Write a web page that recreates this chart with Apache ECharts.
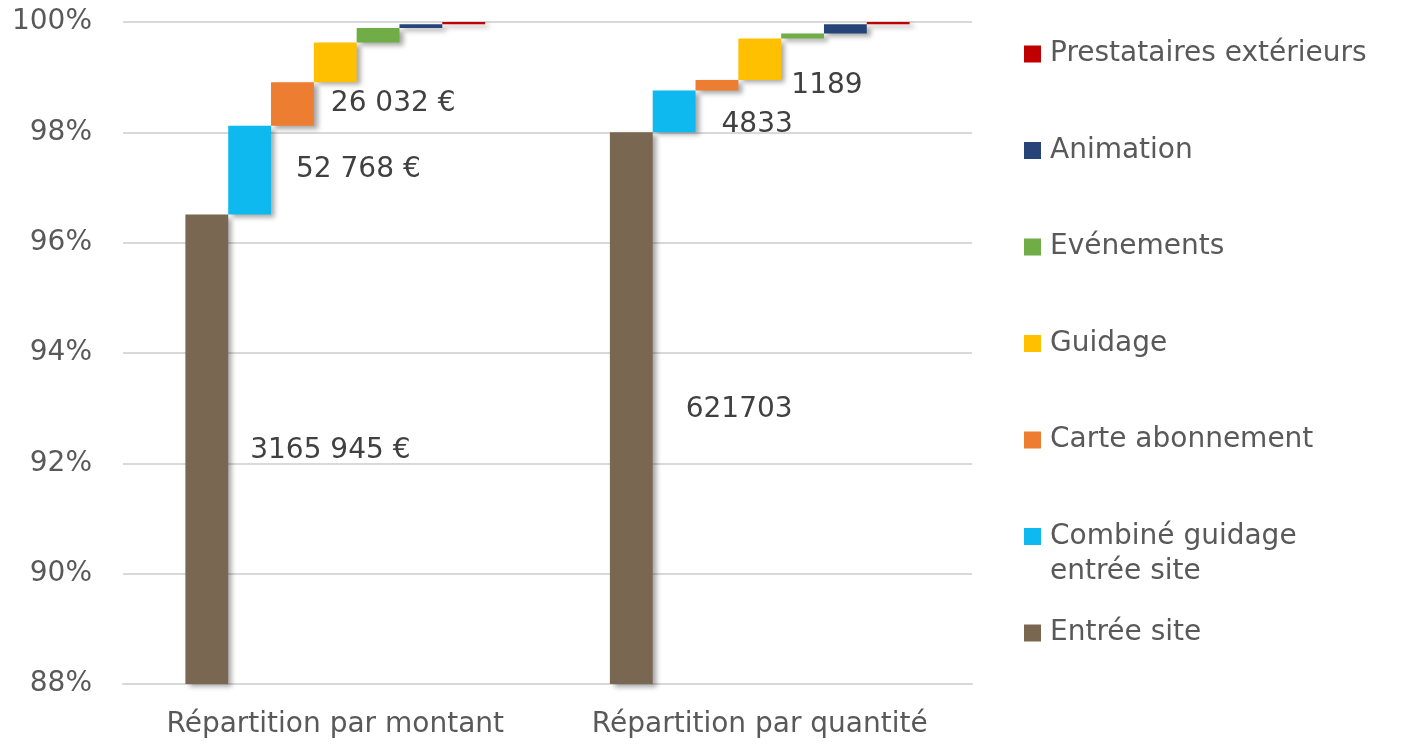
<!DOCTYPE html>
<html>
<head>
<meta charset="utf-8">
<script src="https://cdn.jsdelivr.net/npm/echarts@6/dist/echarts.min.js"></script>
<style>
  html, body { margin: 0; padding: 0; background: #fff; }
  #chart { width: 1404px; height: 744px; }
</style>
</head>
<body>
<div id="chart"></div>
<script>
// categories (x axis)
const categories = ['Répartition par montant', 'Répartition par quantité']
// series, bottom to top of the staircase
const seriesNames = ['Entrée site', 'Combiné guidage entrée site', 'Carte abonnement', 'Guidage', 'Evénements', 'Animation', 'Prestataires extérieurs']
const seriesColors = ['#7a6751', '#0db9ee', '#ed7d31', '#ffc000', '#70ad47', '#264478', '#c00000']
// share of each series in %, per category
const sharesMontant = [96.51, 1.61, 0.79, 0.72, 0.26, 0.07, 0.04]
const sharesQuantite = [98.00, 0.76, 0.19, 0.75, 0.09, 0.17, 0.04]
// data labels
const labelsMontant = ['3165 945 €', '52 768 €', '26 032 €', '', '', '', '']
const labelsQuantite = ['621703', '4833', '1189', '', '', '', '']
// y ticks
const yMin = 88
const yMax = 100
const yStep = 2

// label nudges [x, y] (style only)
const nudgeMontant = [[17, 1], [20, 0], [12, 0]]
const nudgeQuantite = [[28, 2], [21, 13], [48, 1]]

const font = '"DejaVu Sans", sans-serif'
const chart = echarts.init(document.getElementById('chart'))

function cumBefore(arr, i) {
  let s = 0
  for (let k = 0; k < i; k++) s += arr[k]
  return +s.toFixed(4)
}

function labelItem(value, text, nudge) {
  if (!text) return { value: value }
  return {
    value: value,
    label: { show: true, formatter: text, offset: nudge }
  }
}

const series = []
seriesNames.forEach((name, i) => {
  // invisible base so each bar floats on top of the previous ones
  series.push({
    name: '_base' + i,
    type: 'bar',
    stack: 's' + i,
    silent: true,
    itemStyle: { color: 'transparent' },
    data: [cumBefore(sharesMontant, i), cumBefore(sharesQuantite, i)]
  })
  series.push({
    name: name,
    type: 'bar',
    stack: 's' + i,
    itemStyle: {
      color: seriesColors[i],
      shadowColor: 'rgba(0,0,0,0.35)',
      shadowBlur: 5,
      shadowOffsetX: 4,
      shadowOffsetY: 3
    },
    label: {
      show: false,
      position: 'right',
      color: '#404040',
      fontFamily: font,
      fontSize: 28
    },
    data: [
      labelItem(sharesMontant[i], labelsMontant[i], nudgeMontant[i]),
      labelItem(sharesQuantite[i], labelsQuantite[i], nudgeQuantite[i])
    ]
  })
})

const option = {
  animation: false,
  color: seriesColors,
  grid: {
    left: 123,
    right: 432,
    top: 22,
    bottom: 60
  },
  legend: {
    orient: 'vertical',
    left: 1019,
    top: 34,
    itemWidth: 17,
    itemHeight: 17,
    itemGap: 66.5,
    icon: 'rect',
    data: seriesNames.slice().reverse(),
    formatter: name => name === 'Combiné guidage entrée site' ? 'Combiné guidage' : name,
    textStyle: {
      color: '#595959',
      fontFamily: font,
      fontSize: 28,
      lineHeight: 30,
      padding: [0, 0, 0, 4]
    }
  },
  graphic: [{
    type: 'text',
    left: 1050,
    top: 558,
    style: {
      text: 'entrée site',
      fill: '#595959',
      font: '28px ' + font
    }
  }],
  xAxis: {
    type: 'category',
    data: categories,
    axisLine: { lineStyle: { color: '#d9d9d9', width: 2 } },
    axisTick: { show: false },
    axisLabel: {
      interval: 0,
      color: '#595959',
      fontFamily: font,
      fontSize: 28,
      margin: 27
    }
  },
  yAxis: {
    type: 'value',
    min: yMin,
    max: yMax,
    interval: yStep,
    axisLine: { show: false },
    axisTick: { show: false },
    splitLine: { lineStyle: { color: '#d9d9d9', width: 2 } },
    axisLabel: {
      formatter: '{value}%',
      color: '#595959',
      fontFamily: font,
      fontSize: 28,
      margin: 31
    }
  },
  series: series.map(s => Object.assign(s, { barGap: '0%', barCategoryGap: '29.4%' }))
}

chart.setOption(option)
</script>
</body>
</html>
